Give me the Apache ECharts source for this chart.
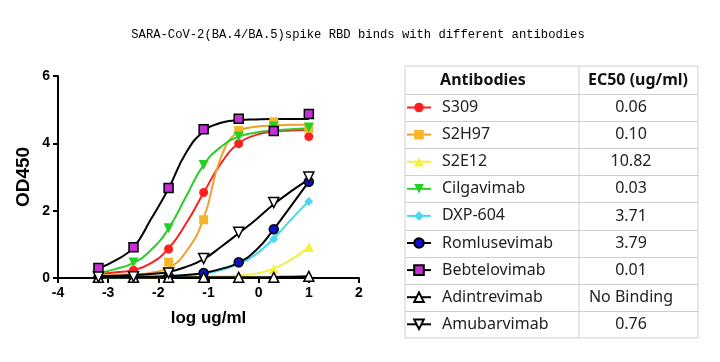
<!DOCTYPE html>
<html><head><meta charset="utf-8">
<script src="https://cdn.jsdelivr.net/npm/echarts@6/dist/echarts.min.js"></script>
<style>html,body{margin:0;padding:0;background:#fff}#c{width:720px;height:362px}</style>
</head><body><div id="c"></div>
<script>
// ---- data ----
const antibodies = ['S309','S2H97','S2E12','Cilgavimab','DXP-604','Romlusevimab','Bebtelovimab','Adintrevimab','Amubarvimab'];
const ec50Labels = ['0.06','0.10','10.82','0.03','3.71','3.79','0.01','No Binding','0.76'];
const logConc = [-3.194,-2.495,-1.796,-1.097,-0.398,0.301,1.0];
const curveX = [-3.194,-2.845,-2.495,-2.146,-1.796,-1.447,-1.097,-0.748,-0.398,-0.049,0.301,0.65,1.0];

const measS309 = [0.07,0.23,0.86,2.54,3.99,4.57,4.20];
const measS2H97 = [0.05,0.03,0.47,1.73,4.38,4.64,4.45];
const measS2E12 = [0.02,0.02,0.02,0.03,0.07,0.27,0.92];
const measCilgavimab = [0.15,0.46,1.48,3.36,4.20,4.50,4.47];
const measDXP604 = [0.02,0.03,0.05,0.13,0.42,1.16,2.27];
const measRomlusevimab = [0.02,0.03,0.06,0.15,0.47,1.45,2.86];
const measBebtelovimab = [0.30,0.91,2.67,4.42,4.73,4.37,4.87];
const measAdintrevimab = [0.02,0.02,0.02,0.02,0.02,0.02,0.05];
const measAmubarvimab = [0.03,0.04,0.15,0.58,1.36,2.24,3.00];

const fitS309 = [0.12,0.17,0.24,0.44,0.88,1.62,2.53,3.41,4.00,4.25,4.35,4.38,4.40];
const fitS2H97 = [0.08,0.09,0.11,0.16,0.30,0.78,1.77,3.60,4.35,4.49,4.53,4.55,4.55];
const fitS2E12 = [0.02,0.02,0.02,0.02,0.03,0.03,0.04,0.05,0.07,0.13,0.28,0.55,0.91];
const fitCilgavimab = [0.14,0.27,0.45,0.83,1.47,2.42,3.36,3.90,4.20,4.32,4.38,4.42,4.45];
const fitDXP604 = [0.02,0.02,0.03,0.04,0.06,0.08,0.13,0.24,0.42,0.71,1.18,1.74,2.29];
const fitRomlusevimab = [0.02,0.02,0.03,0.04,0.06,0.09,0.15,0.27,0.46,0.83,1.45,2.15,2.86];
const fitBebtelovimab = [0.29,0.53,0.91,1.75,2.66,3.72,4.35,4.61,4.69,4.71,4.72,4.72,4.72];
const fitAdintrevimab = [0.02,0.02,0.02,0.02,0.02,0.02,0.02,0.02,0.02,0.02,0.03,0.04,0.05];
const fitAmubarvimab = [0.05,0.07,0.09,0.12,0.18,0.33,0.56,0.93,1.33,1.74,2.19,2.58,2.93];

const measured = [measS309,measS2H97,measS2E12,measCilgavimab,measDXP604,measRomlusevimab,measBebtelovimab,measAdintrevimab,measAmubarvimab];
const fitted = [fitS309,fitS2H97,fitS2E12,fitCilgavimab,fitDXP604,fitRomlusevimab,fitBebtelovimab,fitAdintrevimab,fitAmubarvimab];

// ---- styles ----
const styles = [
  {symbol:'circle',   rot:0,   fill:'#ff1f1f', border:'#ff1f1f', bw:0,   line:'#ff2020'},
  {symbol:'rect',     rot:0,   fill:'#f7b52a', border:'#f7b52a', bw:0,   line:'#f0a02a'},
  {symbol:'triangle', rot:0,   fill:'#f6f335', border:'#f6f335', bw:0,   line:'#f2ef3c'},
  {symbol:'triangle', rot:180, fill:'#24d024', border:'#24d024', bw:0,   line:'#2ccc2c'},
  {symbol:'diamond',  rot:0,   fill:'#45dcef', border:'#45dcef', bw:0,   line:'#45d8ec'},
  {symbol:'circle',   rot:0,   fill:'#0b12c8', border:'#000000', bw:1.5, line:'#000000'},
  {symbol:'rect',     rot:0,   fill:'#c62fd6', border:'#000000', bw:1.5, line:'#000000'},
  {symbol:'triangle', rot:0,   fill:'#ffffff', border:'#000000', bw:1.5, line:'#000000'},
  {symbol:'triangle', rot:180, fill:'#ffffff', border:'#000000', bw:1.5, line:'#000000'}
];

const series = [];
antibodies.forEach((n, i) => {
  const s = styles[i];
  series.push({
    name: n, type: 'line', smooth: 0.5,
    data: curveX.map((x, k) => [x, fitted[i][k]]),
    symbol: s.symbol, symbolRotate: s.rot, showSymbol: false,
    lineStyle: {color: s.line, width: 2},
    itemStyle: {color: s.fill, borderColor: s.border, borderWidth: s.bw},
    z: 2, silent: true
  });
});
antibodies.forEach((n, i) => {
  const s = styles[i];
  series.push({
    name: n + ' points', type: 'scatter',
    data: logConc.map((x, k) => [x, measured[i][k]]),
    symbol: s.symbol, symbolRotate: s.rot,
    symbolSize: s.symbol === 'rect' ? 9 : (s.symbol === 'triangle' ? 10 : 9),
    itemStyle: {color: s.fill, borderColor: s.border, borderWidth: s.bw, opacity: 1},
    z: 3, silent: true
  });
});

// ---- table graphics ----
const tL = 405, tR = 698, tDiv = 579, tTop = 66, hdrBot = 94, rowH = 27.1;
const tBot = hdrBot + rowH * antibodies.length;
const gridColor = '#cfcfcf';
const graphic = [];
graphic.push({type:'rect', shape:{x:tL, y:tTop, width:tR - tL, height:tBot - tTop}, style:{fill:'none', stroke:gridColor, lineWidth:1}});
graphic.push({type:'line', shape:{x1:tDiv, y1:tTop, x2:tDiv, y2:tBot}, style:{stroke:gridColor, lineWidth:1}});
for (let k = 0; k < antibodies.length; k++) {
  const y = Math.round(hdrBot + rowH * k) + 0.5;
  graphic.push({type:'line', shape:{x1:tL, y1:y, x2:tR, y2:y}, style:{stroke:gridColor, lineWidth:1}});
  graphic.push({type:'text', x:631, y:hdrBot + rowH * (k + 0.5),
    style:{text: ec50Labels[k], font:'16px "Noto Sans"', fill:'#222', textAlign:'center', textVerticalAlign:'middle'}});
}
graphic.push({type:'text', x:483, y:80, style:{text:'Antibodies', font:'bold 16px "Noto Sans"', fill:'#111', textAlign:'center', textVerticalAlign:'middle'}});
graphic.push({type:'text', x:638, y:80, style:{text:'EC50 (ug/ml)', font:'bold 16px "Noto Sans"', fill:'#111', textAlign:'center', textVerticalAlign:'middle'}});
graphic.push({type:'text', x:358, y:35, style:{text:'SARA-CoV-2(BA.4/BA.5)spike RBD binds with different antibodies', font:'12.2px "Liberation Mono"', fill:'#000', textAlign:'center', textVerticalAlign:'middle'}});

const chart = echarts.init(document.getElementById('c'), null, {renderer:'canvas'});
chart.setOption({
  animation: false,
  backgroundColor: '#fff',
  grid: {left: 58, right: 361, top: 76, bottom: 84, containLabel: false},
  xAxis: {
    type: 'value', min: -4, max: 2, interval: 1,
    name: 'log ug/ml', nameLocation: 'middle', nameGap: 32,
    nameTextStyle: {fontFamily: 'Liberation Sans', fontWeight: 'bold', fontSize: 17, color: '#000'},
    axisLine: {onZero: false, lineStyle: {color: '#000', width: 2}},
    axisTick: {show: true, length: 5, lineStyle: {color: '#000', width: 2}},
    axisLabel: {fontFamily: 'Liberation Sans', fontWeight: 'bold', fontSize: 14, color: '#000', margin: 8},
    splitLine: {show: false}
  },
  yAxis: {
    type: 'value', min: 0, max: 6, interval: 2,
    name: 'OD450', nameLocation: 'middle', nameGap: 25, nameRotate: 90,
    nameTextStyle: {fontFamily: 'Liberation Sans', fontWeight: 'bold', fontSize: 19, color: '#000'},
    axisLine: {show: true, onZero: false, lineStyle: {color: '#000', width: 2}},
    axisTick: {show: true, length: 5, lineStyle: {color: '#000', width: 2}},
    axisLabel: {fontFamily: 'Liberation Sans', fontWeight: 'bold', fontSize: 14, color: '#000', margin: 8},
    splitLine: {show: false}
  },
  legend: {
    data: antibodies, orient: 'vertical', left: 406, top: 99.5, padding: 0,
    itemWidth: 24, itemHeight: 12, itemGap: 11.1, selectedMode: false,
    textStyle: {fontFamily: 'Noto Sans', fontSize: 16, color: '#222', lineHeight: 16, padding: [0,0,0,6]}
  },
  graphic: graphic,
  series: series
});
</script></body></html>
